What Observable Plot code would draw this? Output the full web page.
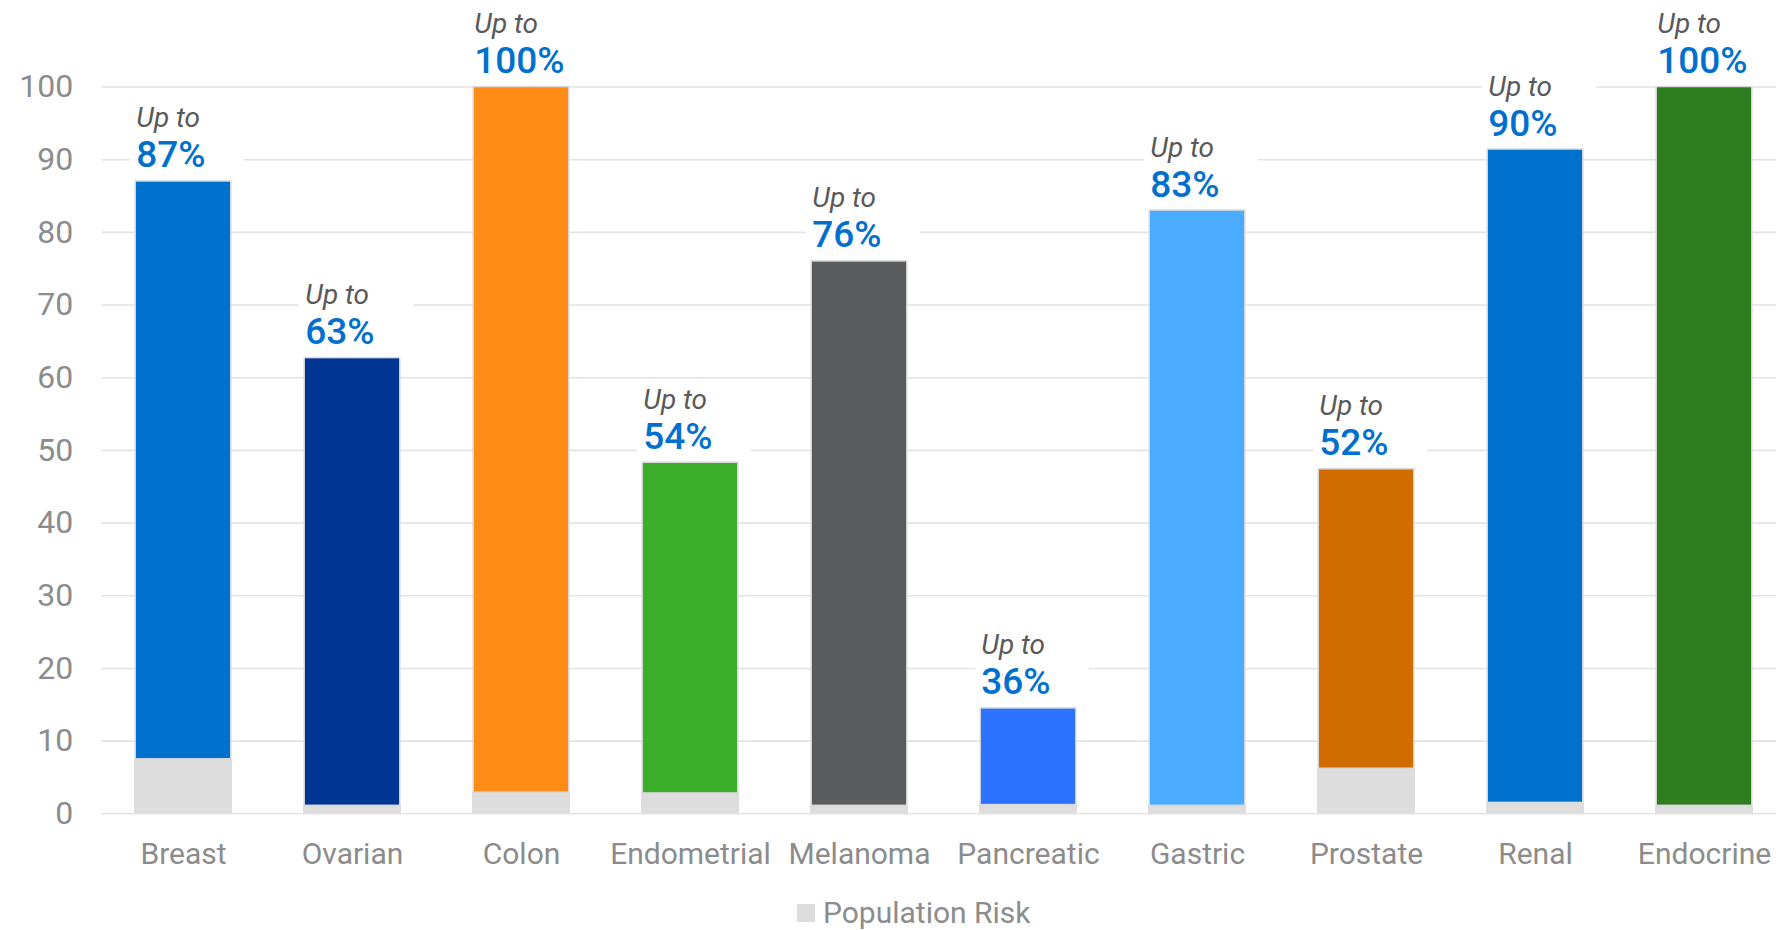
<!DOCTYPE html>
<html>
<head>
<meta charset="utf-8">
<script src="https://cdn.jsdelivr.net/npm/d3@7"></script>
<script src="https://cdn.jsdelivr.net/npm/@observablehq/plot@0.6"></script>
<style>
  html, body { margin: 0; padding: 0; background: #fff; }
  body { width: 1776px; height: 930px; position: relative; overflow: hidden; font-family: Roboto, "Liberation Sans", sans-serif; }
  #chart { position: absolute; left: 0; top: 0; }
  #legend { position: absolute; left: 797px; top: 898px; display: flex; align-items: center; gap: 8px;
            font-size: 30px; line-height: 29px; color: #8c8c8c; }
  #legend .sw { width: 18px; height: 18px; background: #dcdddc; }
</style>
</head>
<body>
<div id="chart"></div>
<div id="legend"><span class="sw"></span><span>Population Risk</span></div>
<script>
// ---- data ----
const categories = ["Breast", "Ovarian", "Colon", "Endometrial", "Melanoma", "Pancreatic", "Gastric", "Prostate", "Renal", "Endocrine"];
const populationRisk = [7.5, 1.1, 2.9, 2.8, 1.1, 1.2, 1.1, 6.2, 1.5, 1.1];
const barTop = [87, 62.7, 100, 48.3, 76, 14.5, 83, 47.4, 91.4, 100];
const labelPercent = [87, 63, 100, 54, 76, 36, 83, 52, 90, 100];
const yTicks = [0, 10, 20, 30, 40, 50, 60, 70, 80, 90, 100];
const labelPrefix = "Up to";
const legendLabel = "Population Risk";

// ---- style ----
const barColors = ["#0072ce", "#003594", "#ff8c16", "#3dae2b", "#5a5b5d", "#2b72ff", "#4bacff", "#d16d00", "#0072ce", "#2e7d21"];
const popColor = "#dcdddc";
const axisGray = "#8c8c8c";
const pctBlue = "#0070ce";

const rows = categories.map((c, i) => ({
  category: c, pop: populationRisk[i], top: barTop[i], pct: labelPercent[i] + "%"
}));

const W = 1776, H = 880;
const xRange = [131.8, 1755.6];
const padInner = 0.419;
const step = (xRange[1] - xRange[0]) / (categories.length - padInner);
const bw = step * (1 - padInner);
const leftDx = -bw / 2 + 2;

const pctSize = 37, upSize = 28;
const gap = 14;

const plot = Plot.plot({
  width: W,
  height: H,
  marginLeft: 101.4,
  marginRight: 0,
  marginTop: 86.5,
  marginBottom: H - 813.3,
  style: { fontFamily: "Roboto, 'Liberation Sans', sans-serif", background: "#fff", overflow: "visible" },
  x: { type: "band", domain: categories, range: xRange, paddingInner: padInner, paddingOuter: 0, align: 0.5, label: null },
  y: { domain: [0, 100], label: null },
  color: { domain: categories, range: barColors },
  marks: [
    Plot.gridY(yTicks, { stroke: "#e3e3e3", strokeOpacity: 1, strokeWidth: 1.6 }),
    Plot.axisY(yTicks, { tickSize: 0, tickPadding: 28.7, fontSize: 32, fill: axisGray, label: null }),
    Plot.axisX({ tickSize: 0, tickPadding: 29, fontSize: 30, fill: axisGray, label: null }),
    // white label boxes
    Plot.barY(rows, { x: "category", y1: "top", y2: "top", fill: "white",
      insetTop: -(gap + 40 + 26), insetBottom: 2, insetLeft: -4, insetRight: -12 }),
    // population risk (gray)
    Plot.barY(rows, { x: "category", y1: 0, y2: "pop", fill: popColor }),
    // colored bars
    Plot.barY(rows, { x: "category", y1: "pop", y2: "top", fill: "category",
      stroke: "#d9d9d9", strokeWidth: 1.5, insetLeft: 1.2, insetRight: 1.2 }),
    // labels
    Plot.text(rows, { x: "category", y: "top", text: "pct", textAnchor: "start", lineAnchor: "middle",
      dx: leftDx, dy: -gap - 0.32 * pctSize, fontSize: pctSize, fontWeight: 500, fill: pctBlue }),
    Plot.text(rows, { x: "category", y: "top", text: () => labelPrefix, textAnchor: "start", lineAnchor: "middle",
      dx: leftDx, dy: -gap - 40 - 0.32 * upSize, fontSize: upSize, fontStyle: "italic", fill: "#595959" })
  ]
});
document.getElementById("chart").appendChild(plot);
document.querySelector("#legend span:last-child").textContent = legendLabel;
</script>
</body>
</html>
